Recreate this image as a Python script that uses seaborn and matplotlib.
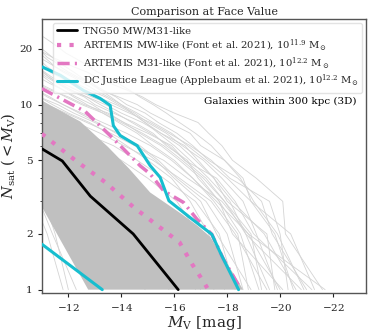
import numpy as np
import pandas as pd
import matplotlib
matplotlib.use("Agg")
import matplotlib.pyplot as plt
import seaborn as sns
from matplotlib.ticker import FixedLocator, FixedFormatter, NullFormatter, LogLocator

# ---------------- data ----------------
# individual TNG50 hosts: satellite magnitudes, brightest first (N = 1, 2, 3, ...)
tng_hosts = [
    [-21.6, -20.2, -20.1, -19.1, -18.2, -17.8, -17.3, -16.9, -16.0, -15.3, -14.8, -14.2, -13.6, -13.1, -12.7, -12.2, -11.8, -11.4, -11.1, -10.8],
    [-20.5, -19.8, -18.9, -18.6, -17.9, -17.0, -16.6, -15.8, -15.1, -14.6, -13.9, -13.2, -12.8, -12.3, -11.9, -11.5, -11.2, -10.9],
    [-21.2, -19.0, -18.3, -17.6, -16.4, -15.9, -15.0, -14.1, -13.5, -12.6, -12.0, -11.3, -10.8],
    [-19.8, -19.5, -18.0, -17.5, -16.8, -16.2, -15.5, -14.9, -14.4, -13.8, -13.1, -12.5, -12.1, -11.7, -11.3, -11.1, -10.9],
    [-20.8, -18.7, -17.9, -17.1, -16.3, -15.6, -14.8, -14.0, -13.3, -12.5, -11.9, -11.4, -10.9],
    [-19.2, -18.5, -17.7, -16.9, -16.5, -15.7, -15.2, -14.5, -13.7, -13.0, -12.6, -12.0, -11.6, -11.3, -11.05, -10.8],
    [-21.0, -19.7, -19.3, -18.4, -17.3, -16.7, -16.1, -15.4, -14.9, -14.2, -13.8, -13.3, -12.9, -12.4, -12.0, -11.7, -11.5, -11.2, -11.05, -10.7],
    [-18.9, -17.6, -17.0, -16.0, -15.3, -14.6, -13.9, -13.0, -12.2, -11.6, -10.9],
    [-20.3, -20.0, -19.6, -18.1, -17.4, -16.6, -15.8, -15.1, -14.3, -13.6, -12.9, -12.3, -11.8, -11.4, -11.1, -10.8],
    [-18.6, -18.0, -17.2, -16.1, -15.4, -14.7, -13.8, -13.1, -12.4, -11.8, -11.3, -10.8],
    [-21.7, -18.8, -17.8, -16.5, -15.6, -14.5, -13.6, -12.7, -11.9, -11.2, -10.8],
    [-19.9, -19.1, -18.6, -17.8, -17.1, -16.3, -15.7, -15.0, -14.5, -13.9, -13.4, -12.8, -12.3, -11.9, -11.5, -11.2, -11.0, -10.8],
    [-17.9, -17.3, -16.6, -15.9, -15.0, -14.2, -13.5, -12.8, -12.0, -11.4, -10.9],
    [-20.6, -19.4, -18.2, -17.5, -16.9, -16.4, -15.5, -14.8, -14.0, -13.4, -12.7, -12.1, -11.6, -11.2, -10.9],
    [-19.5, -18.3, -17.4, -16.2, -15.2, -14.1, -13.2, -12.3, -11.5, -10.9],
    [-18.3, -17.7, -16.8, -15.6, -14.6, -13.7, -12.6, -11.7, -10.9],
    [-21.3, -20.4, -18.9, -18.0, -17.2, -16.5, -15.9, -15.2, -14.6, -14.0, -13.5, -13.0, -12.6, -12.2, -11.8, -11.5, -11.3, -11.1, -10.9],
    [-17.5, -16.9, -16.1, -15.0, -14.0, -13.0, -12.1, -11.3, -10.8],
    [-20.0, -18.8, -17.6, -16.7, -15.9, -15.1, -14.2, -13.3, -12.5, -11.8, -11.2, -10.8],
    [-16.8, -16.0, -14.9, -13.8, -12.7, -11.8, -11.0, -10.7],
    [-16.2, -15.1, -13.6, -12.4, -11.3, -10.8],
    [-17.0, -15.5, -13.9, -12.6, -11.6, -10.9],
    [-15.8, -14.3, -13.0, -11.9, -11.2, -10.8],
    [-14.9, -13.4, -12.2, -11.4, -10.8],
    [-12.3, -11.4, -10.9],
    [-12.0, -11.5, -11.1, -10.8],
    [-11.8, -11.2, -10.7],
    [-20.9, -19.9, -19.0, -18.5, -17.9, -17.4, -16.8, -16.2, -15.7, -15.2, -14.7, -14.3, -13.9, -13.5, -13.1, -12.8, -12.5, -12.2, -11.9, -11.7, -11.5, -11.3, -11.1, -10.9],
    [-19.6, -18.7, -18.1, -17.3, -16.6, -16.0, -15.4, -14.9, -14.4, -14.0, -13.6, -13.2, -12.9, -12.5, -12.2, -11.9, -11.6, -11.4, -11.2, -11.0, -10.8],
    [-18.8, -18.4, -17.5, -16.7, -16.0, -15.2, -14.6, -13.9, -13.3, -12.7, -12.2, -11.8, -11.4, -11.1, -10.8],
    [-20.1, -18.2, -17.7, -17.0, -16.2, -15.5, -14.7, -14.1, -13.4, -12.9, -12.3, -11.8, -11.3, -10.9],
    [-19.3, -18.9, -17.9, -17.2, -16.4, -15.8, -15.1, -14.4, -13.8, -13.2, -12.7, -12.1, -11.7, -11.3, -11.0, -10.8],
]

# TNG50 median
tng_mv = [-11.0, -11.77, -12.83, -14.45, -16.15]
tng_n = [5.77, 4.96, 3.2, 2.0, 1.0]

# TNG50 envelope (shaded)
band_upper_mv = [-11.0, -12.45, -13.5, -14.3, -15.09, -16.3, -16.9, -17.36, -17.9, -18.3, -18.6]
band_upper_n = [10.5, 8.1, 5.9, 4.5, 3.35, 2.55, 2.2, 1.93, 1.45, 1.18, 1.0]
band_lower_mv = [-11.0, -12.75]
band_lower_n = [2.8, 1.0]

# ARTEMIS MW-like
art_mw_mv = [-11.0, -12.34, -13.4, -14.45, -16.2, -16.68, -17.06, -17.25]
art_mw_n = [6.95, 4.9, 3.8, 2.8, 1.8, 1.37, 1.13, 1.02]

# ARTEMIS M31-like
art_m31_mv = [-11.0, -11.7, -12.64, -13.58, -14.72, -15.09, -15.6, -16.35, -16.86, -17.42, -17.86, -18.49]
art_m31_n = [12.2, 10.8, 9.17, 6.8, 4.66, 4.22, 3.42, 2.96, 2.4, 1.99, 1.46, 1.02]

# DC Justice League
dcjl_a_mv = [-11.0, -11.7, -12.58, -13.2, -13.58, -13.7, -13.96, -14.6, -15.09, -15.47, -15.8, -16.6, -17.17, -17.42, -17.8, -18.43]
dcjl_a_n = [16.0, 14.4, 11.9, 10.8, 9.9, 7.7, 6.8, 6.0, 4.68, 4.04, 3.02, 2.45, 2.12, 1.99, 1.52, 1.0]
dcjl_b_mv = [-11.0, -13.28]
dcjl_b_n = [1.76, 1.0]

xticks = [-12, -14, -16, -18, -20, -22]
yticks = [1, 2, 5, 10, 20]
ytick_labels = ["1", "2", "5", "10", "20"]

# ---------------- plot ----------------
sns.set_style("ticks")
plt.rcParams["font.family"] = ["DejaVu Serif"]
plt.rcParams["mathtext.fontset"] = "dejavuserif"

fig = plt.figure(figsize=(3.74, 3.34), dpi=100)
ax = fig.add_axes([0.112, 0.123, 0.867, 0.820])

rows = []
for gi, mags in enumerate(tng_hosts):
    for k, m in enumerate(mags):
        rows.append({"host": gi, "Mv": m, "N": k + 1})
df_hosts = pd.DataFrame(rows)
sns.lineplot(data=df_hosts, x="Mv", y="N", units="host", estimator=None, sort=False,
             color="#d4d4d4", lw=0.6, ax=ax, zorder=1, legend=False)

poly_x = band_upper_mv + band_lower_mv[::-1]
poly_y = band_upper_n + band_lower_n[::-1]
ax.fill(poly_x, poly_y, color="#c0c0c0", lw=0, zorder=2)

sns.lineplot(x=tng_mv, y=tng_n, sort=False, color="black", lw=2.0, ax=ax, zorder=4,
             label="TNG50 MW/M31-like")
sns.lineplot(x=art_mw_mv, y=art_mw_n, sort=False, color="#e377c2", lw=3.0, ax=ax, zorder=4,
             linestyle=(0, (1, 2)),
             label=r"ARTEMIS MW-like (Font et al. 2021), $10^{11.9}$ M$_\odot$")
sns.lineplot(x=art_m31_mv, y=art_m31_n, sort=False, color="#e377c2", lw=2.5, ax=ax, zorder=4,
             linestyle=(0, (3.5, 1.5, 0.6, 1.5)),
             label=r"ARTEMIS M31-like (Font et al. 2021), $10^{12.2}$ M$_\odot$")
sns.lineplot(x=dcjl_a_mv, y=dcjl_a_n, sort=False, color="#17becf", lw=2.2, ax=ax, zorder=5,
             label=r"DC Justice League (Applebaum et al. 2021), $10^{12.2}$ M$_\odot$")
sns.lineplot(x=dcjl_b_mv, y=dcjl_b_n, sort=False, color="#17becf", lw=2.2, ax=ax, zorder=5)

ax.set_yscale("log")
ax.set_xlim(-11.0, -23.25)
ax.set_ylim(0.96, 29)
ax.yaxis.set_major_locator(FixedLocator(yticks))
ax.yaxis.set_major_formatter(FixedFormatter(ytick_labels))
ax.yaxis.set_minor_locator(LogLocator(base=10, subs=np.arange(2, 10)))
ax.yaxis.set_minor_formatter(NullFormatter())
ax.set_xticks(xticks)
ax.set_xticklabels([f"$-${abs(t)}" for t in xticks])
ax.tick_params(labelsize=7.5, length=3, width=0.8, colors="#222222")
ax.tick_params(which="minor", length=1.8, width=0.6)
for s in ax.spines.values():
    s.set_color("#555555")
    s.set_linewidth(1.0)

ax.set_xlabel(r"$M_{\rm V}$ [mag]", fontsize=11, labelpad=1)
ax.set_ylabel(r"$N_{\rm sat}$ $(<M_{\rm V})$", fontsize=10.5, labelpad=2)
ax.set_title("Comparison at Face Value", fontsize=8, pad=3)

leg = ax.legend(loc="upper right", fontsize=7.2, frameon=True, handlelength=2.0,
                borderpad=0.35, labelspacing=0.2, handletextpad=0.6, borderaxespad=0.4)
leg.get_frame().set_edgecolor("#dddddd")
leg.set_zorder(10)
ax.text(0.97, 0.70, "Galaxies within 300 kpc (3D)", transform=ax.transAxes,
        ha="right", va="center", fontsize=7.5, color="black", zorder=11)

fig.savefig("out.png", dpi=100)
